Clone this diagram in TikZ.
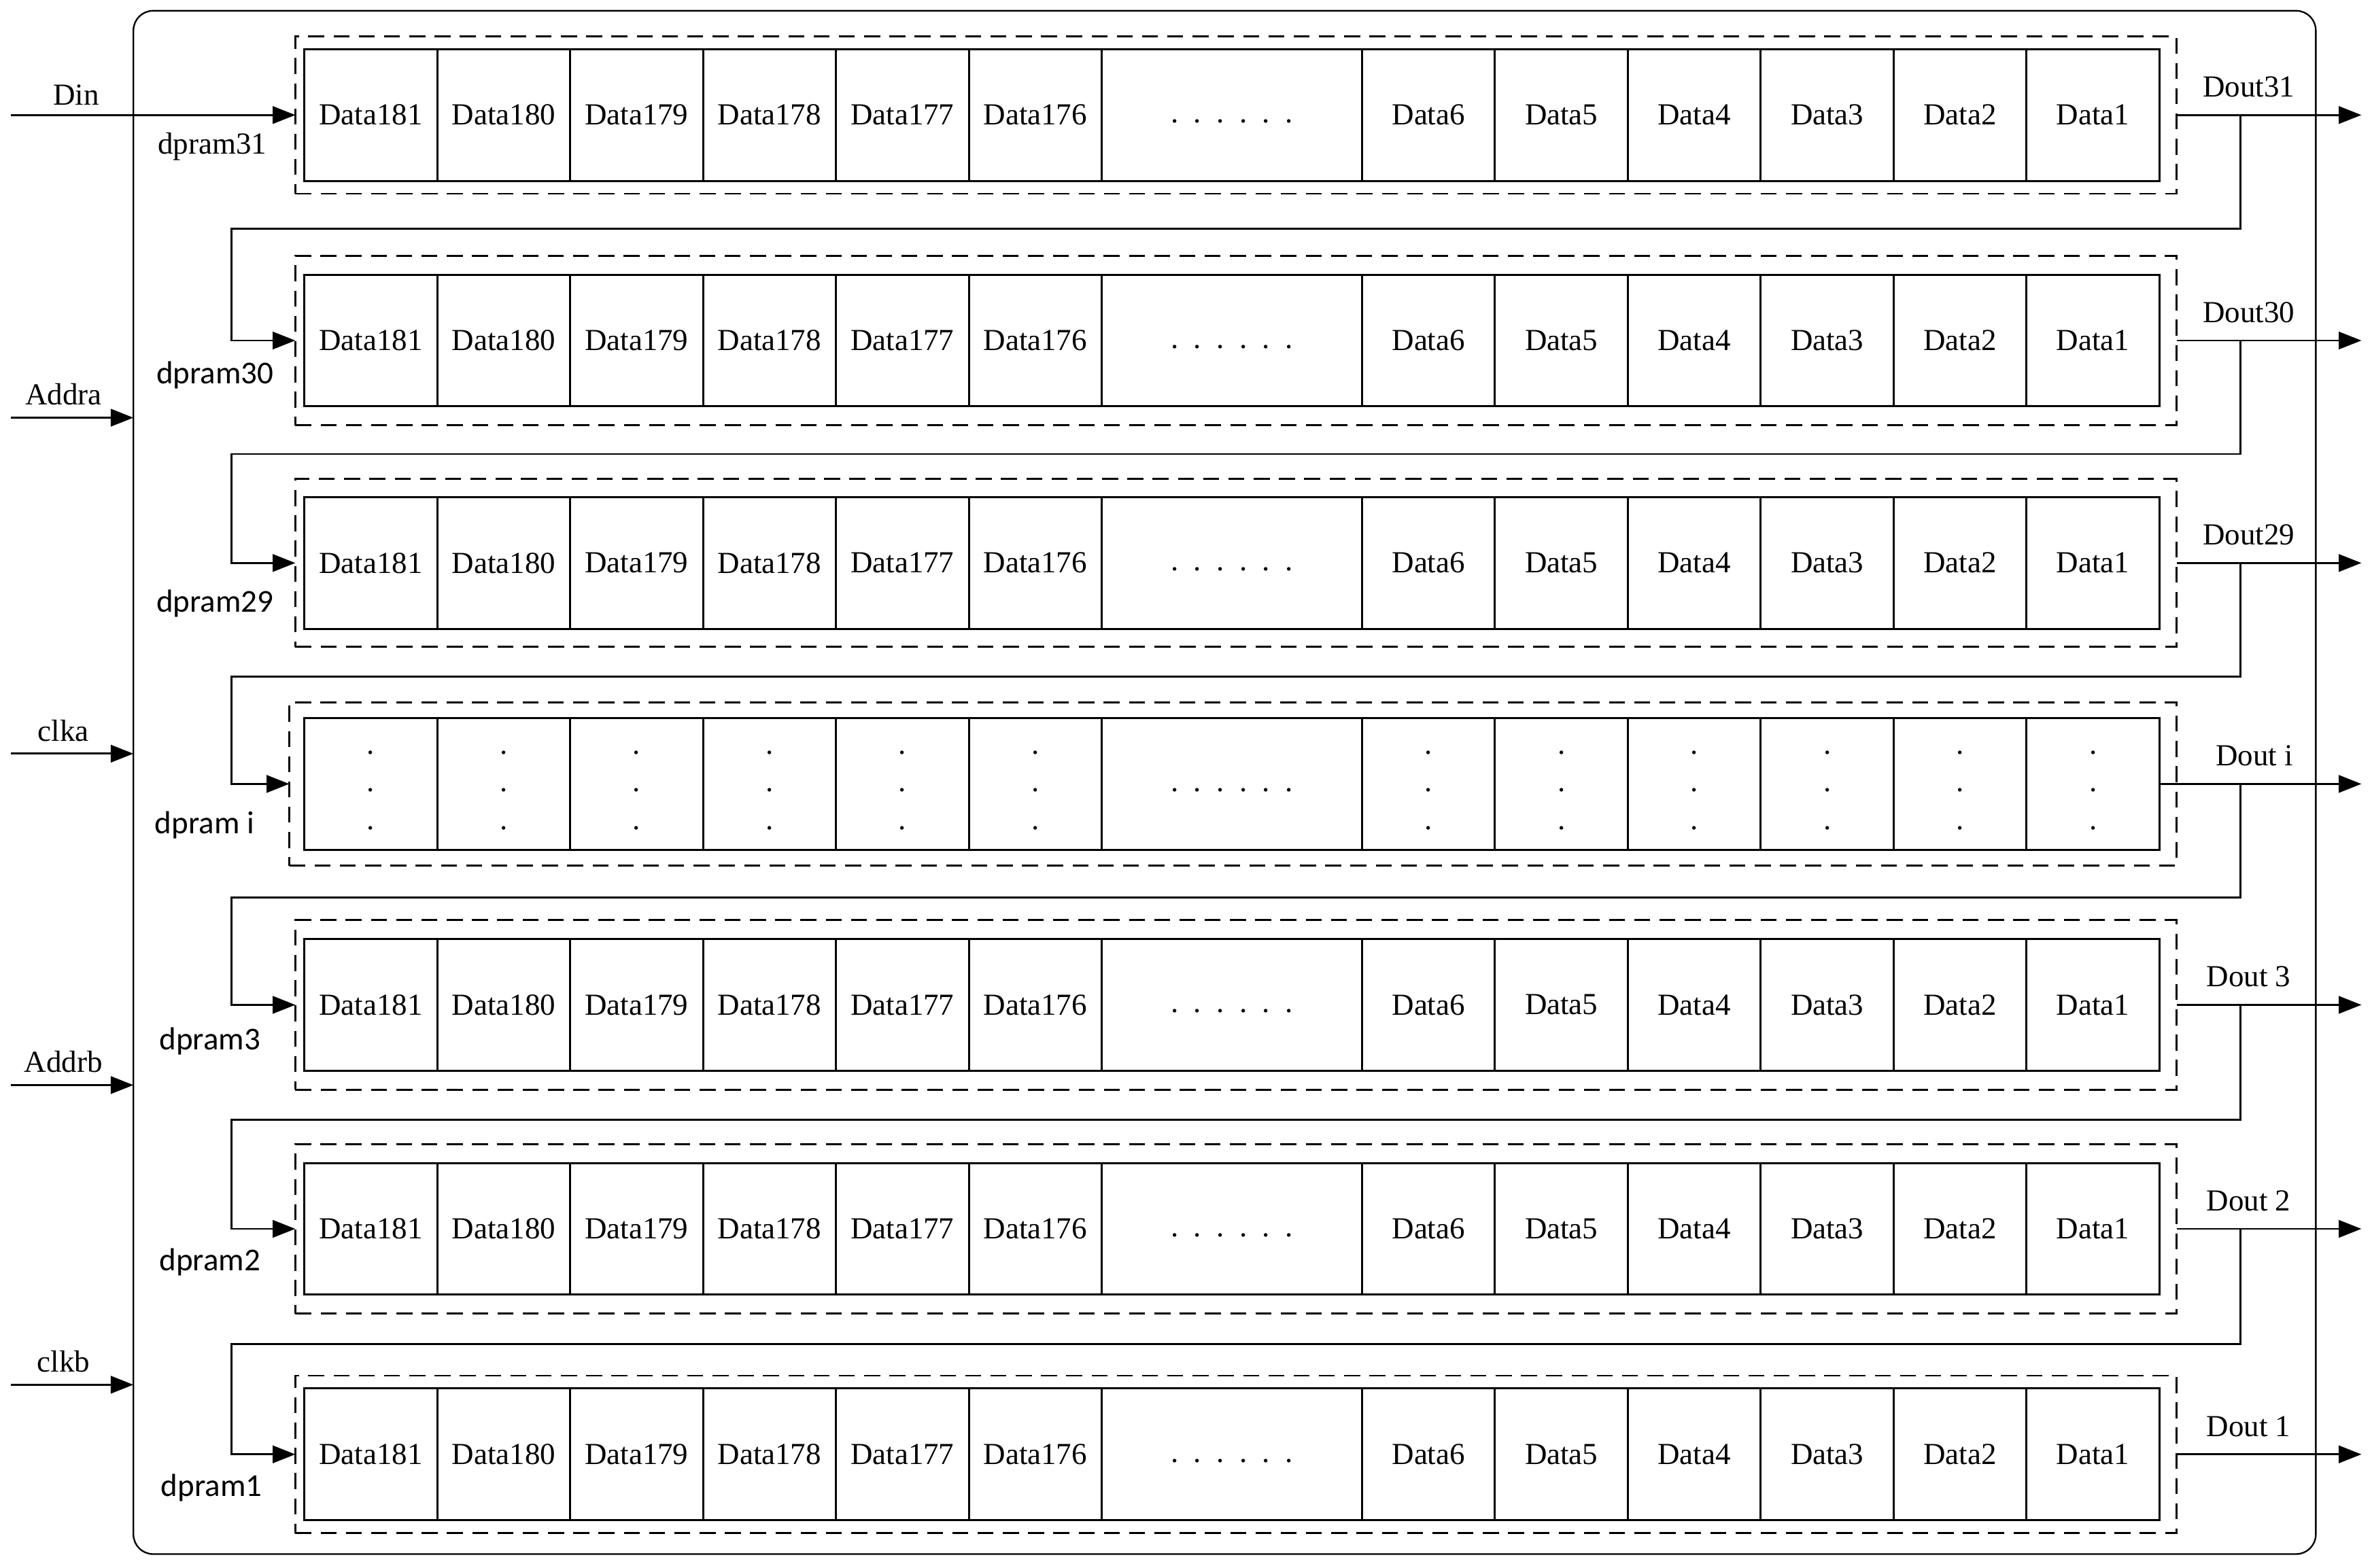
\documentclass[tikz,border=0pt]{standalone}
\usepackage{fontspec}
\setmainfont{Liberation Serif}
\newfontfamily\dpramfont{Carlito}
\usetikzlibrary{arrows.meta, positioning}
\newcommand{\dotstrut}{\rule{0pt}{6pt}}

\begin{document}
\begin{tikzpicture}[x=0.02cm, y=-0.02cm,
        cell/.style={rectangle, draw, line width=0.75pt, minimum width=1.756cm, minimum height=1.74cm, inner sep=0pt, outer sep=0pt, font=\fontsize{11.5}{14.2}\selectfont, align=center},
        dotcell/.style={cell, minimum width=3.44cm},
        ramframe/.style={rectangle, draw, line width=0.75pt, dash pattern=on 6pt off 3.5pt, minimum width=24.86cm, inner sep=0pt, outer sep=0pt},
        chipbox/.style={rectangle, draw, line width=0.6pt, rounded corners=0.26cm, minimum width=28.84cm, minimum height=20.4cm, inner sep=0pt, outer sep=0pt},
        ramlabel/.style={inner sep=0pt, anchor=west, font=\dpramfont\fontsize{12}{13}\selectfont},
        sig/.style={font=\fontsize{11.5}{13}\selectfont},
        arrow/.style={-{Triangle[length=0.3cm, width=0.23cm]}, line width=0.75pt}
    ]
    \useasboundingbox (0,0) rectangle (1567,1036);

    % Chip Container
    \node[chipbox] (chip) at (809,517) {};

    % Dual-port RAM rows
    \foreach \r/\y/\h/\lab in {31/76/2.08/Dout31, 30/225/2.24/Dout30, 29/372/2.22/Dout29, 3/664/2.24/Dout 3, 2/812/2.24/Dout 2, 1/961/2.08/Dout 1} {
        \node[ramframe, minimum height=\h cm] (ram\r) at (816.5,\y) {};
        \foreach \t [count=\k] in {181,180,179,178,177,176}
            \node[cell] (c\r-\t) at (157.1+87.8*\k,\y) {Data\t};
        \node[dotcell] (c\r-gap) at (813.8,\y) {\dotstrut.\enspace.\enspace.\enspace.\enspace.\enspace.};
        \foreach \t [count=\k] in {6,5,4,3,2,1}
            \node[cell] (c\r-\t) at (855.9+87.8*\k,\y) {Data\t};
        \coordinate (tap\r) at (1480,\y);
        \coordinate (dout\r) at (1560,\y);
        \draw[arrow] (ram\r.east) -- (dout\r) node[sig, pos=0.39, above=3pt] {\lab};
    }

    % dpram i
    \node[ramframe, minimum width=24.94cm, minimum height=2.16cm] (rami) at (814.5,518) {};
    \foreach \k in {1,...,6}
        \node[cell] (ci-\k) at (157.1+87.8*\k,518) {\dotstrut.\\.\\.};
    \node[dotcell] (ci-gap) at (813.8,518) {\dotstrut.\enspace.\enspace.\enspace.\enspace.\enspace.};
    \foreach \k in {7,...,12}
        \node[cell] (ci-\k) at (329.1+87.8*\k,518) {\dotstrut.\\.\\.};
    \coordinate (tapi) at (1480,518);
    \coordinate (douti) at (1560,518);
    \draw[arrow] (ci-12.east) -- (douti) node[sig, pos=0.47, above=3pt] {Dout i};

    % Row labels
    \node[ramlabel, font=\fontsize{11.5}{13}\selectfont] (lab31) at (104,97) {dpram31};
    \node[ramlabel] (lab30) at (103,248) {dpram30};
    \node[ramlabel] (lab29) at (103,399) {dpram29};
    \node[ramlabel] (labi) at (102,545) {dpram i};
    \node[ramlabel] (lab3) at (105,688) {dpram3};
    \node[ramlabel] (lab2) at (105,834) {dpram2};
    \node[ramlabel] (lab1) at (106,983) {dpram1};

    % Cascade
    \draw[arrow] (tap31) |- (153,151) |- (ram30.west);
    \draw[arrow] (tap30) |- (153,300) |- (ram29.west);
    \draw[arrow] (tap29) |- (153,447) |- (rami.west);
    \draw[arrow] (tapi) |- (153,593) |- (ram3.west);
    \draw[arrow] (tap3) |- (153,740) |- (ram2.west);
    \draw[arrow] (tap2) |- (153,888) |- (ram1.west);

    % Inputs
    \coordinate (din) at (7,76);
    \draw[arrow] (din) -- (ram31.west) node[sig, pos=0.23, above] {Din};
    \foreach \s/\y in {Addra/276, clka/498, Addrb/717, clkb/915} {
        \coordinate (\s) at (7,\y);
        \draw[arrow] (\s) -- (\s -| chip.west) node[sig, pos=0.43, above=1pt] {\s};
    }
\end{tikzpicture}
\end{document}
